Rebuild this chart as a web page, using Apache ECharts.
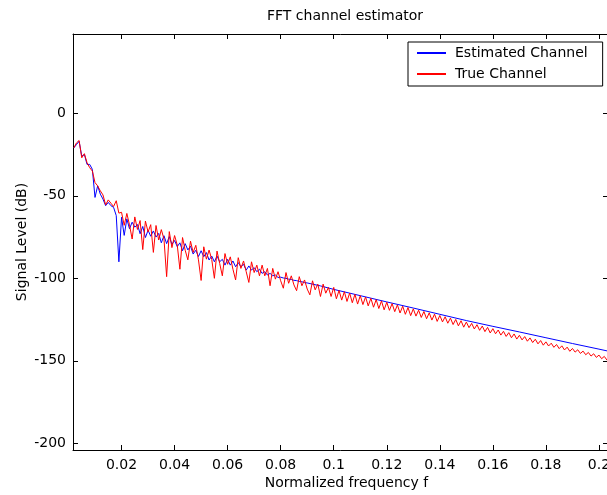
<!DOCTYPE html>
<html>
<head>
<meta charset="utf-8">
<title>FFT channel estimator</title>
<script src="https://cdn.jsdelivr.net/npm/echarts@6/dist/echarts.min.js"></script>
<style>
html, body { margin: 0; padding: 0; background: #fff; }
#chart { width: 607px; height: 495px; }
</style>
</head>
<body>
<div id="chart"></div>
<script>
// true channel, one value per frequency bin
var trueFreq = [
    0.002, 0.003, 0.004, 0.005, 0.006, 0.007, 0.008, 0.009,
    0.010, 0.011, 0.012, 0.013, 0.014, 0.015, 0.016, 0.017, 0.018, 0.019,
    0.020, 0.021, 0.022, 0.023, 0.024, 0.025, 0.026, 0.027, 0.028, 0.029,
    0.030, 0.031, 0.032, 0.033, 0.034, 0.035, 0.036, 0.037, 0.038, 0.039,
    0.040, 0.041, 0.042, 0.043, 0.044, 0.045, 0.046, 0.047, 0.048, 0.049,
    0.050, 0.051, 0.052, 0.053, 0.054, 0.055, 0.056, 0.057, 0.058, 0.059,
    0.060, 0.061, 0.062, 0.063, 0.064, 0.065, 0.066, 0.067, 0.068, 0.069,
    0.070, 0.071, 0.072, 0.073, 0.074, 0.075, 0.076, 0.077, 0.078, 0.079,
    0.080, 0.081, 0.082, 0.083, 0.084, 0.085, 0.086, 0.087, 0.088, 0.089,
    0.090, 0.091, 0.092, 0.093, 0.094, 0.095, 0.096, 0.097, 0.098, 0.099,
    0.100, 0.101, 0.102, 0.103, 0.104, 0.105, 0.106, 0.107, 0.108, 0.109,
    0.110, 0.111, 0.112, 0.113, 0.114, 0.115, 0.116, 0.117, 0.118, 0.119,
    0.120, 0.121, 0.122, 0.123, 0.124, 0.125, 0.126, 0.127, 0.128, 0.129,
    0.130, 0.131, 0.132, 0.133, 0.134, 0.135, 0.136, 0.137, 0.138, 0.139,
    0.140, 0.141, 0.142, 0.143, 0.144, 0.145, 0.146, 0.147, 0.148, 0.149,
    0.150, 0.151, 0.152, 0.153, 0.154, 0.155, 0.156, 0.157, 0.158, 0.159,
    0.160, 0.161, 0.162, 0.163, 0.164, 0.165, 0.166, 0.167, 0.168, 0.169,
    0.170, 0.171, 0.172, 0.173, 0.174, 0.175, 0.176, 0.177, 0.178, 0.179,
    0.180, 0.181, 0.182, 0.183, 0.184, 0.185, 0.186, 0.187, 0.188, 0.189,
    0.190, 0.191, 0.192, 0.193, 0.194, 0.195, 0.196, 0.197, 0.198, 0.199,
    0.200, 0.201, 0.202, 0.203, 0.204
];
var trueDb = [
    -21, -18, -16.5, -27, -24.5, -30, -33, -35,
    -42, -44, -47, -49.5, -55.5, -52.5, -54.5, -56.5, -53, -60.5,
    -60.0, -67.9, -60.7, -67.6, -76.2, -62.8, -70.4, -65.0, -82.6, -65.3,
    -71.9, -67.5, -84.3, -68.0, -76.8, -70.5, -76.2, -99.0, -71.7, -81.4,
    -74.1, -79.8, -94.5, -75.3, -83.0, -88.8, -77.5, -84.3, -80.0, -88.8,
    -101.3, -80.9, -88.4, -82.9, -88.5, -100.0, -83.5, -91.0, -98.5, -85.0,
    -91.5, -87.0, -94.5, -101.0, -87.5, -94.0, -89.5, -96.0, -102.5, -90.0,
    -96.5, -92.0, -98.5, -92.0, -98.5, -94.0, -104.5, -94.0, -100.5, -96.0,
    -101.5, -106.0, -96.5, -103.0, -98.5, -104.0, -107.5, -99.0, -104.5, -101.0,
    -106.5, -110.0, -101.5, -107.0, -103.5, -111.0, -103.5, -109.0, -105.5, -111.0,
    -105.5, -112.4, -107.3, -113.2, -108.1, -114.0, -108.9, -114.8, -109.7, -115.6,
    -110.5, -115.9, -111.3, -116.7, -112.1, -117.5, -112.9, -118.3, -113.7, -119.1,
    -114.5, -119.4, -115.3, -120.2, -116.1, -121.0, -116.9, -121.8, -117.7, -122.6,
    -118.5, -122.9, -119.3, -123.7, -120.1, -124.5, -120.9, -125.3, -121.7, -126.1,
    -122.5, -126.4, -123.3, -127.2, -124.1, -128.0, -124.9, -128.8, -125.7, -129.6,
    -126.5, -129.9, -127.3, -130.7, -128.1, -131.5, -128.9, -132.3, -129.7, -133.1,
    -130.5, -133.6, -131.3, -134.4, -132.1, -135.2, -132.9, -136.0, -133.7, -136.8,
    -134.5, -137.3, -135.3, -138.1, -136.1, -138.9, -136.9, -139.7, -137.7, -140.5,
    -138.5, -141.0, -139.3, -141.8, -140.1, -142.6, -140.9, -143.4, -141.7, -144.2,
    -142.5, -144.7, -143.3, -145.5, -144.1, -146.3, -144.9, -147.1, -145.7, -147.9,
    -146.5, -148.7, -147.3, -149.5, -148.1
];

// estimated channel: noisy at low f, smooth further on
var estFreq = [
    0.002, 0.003, 0.004, 0.005, 0.006, 0.007, 0.008, 0.009,
    0.010, 0.011, 0.012, 0.013, 0.014, 0.015, 0.016, 0.017, 0.018, 0.019,
    0.020, 0.021, 0.022, 0.023, 0.024, 0.025, 0.026, 0.027, 0.028, 0.029,
    0.030, 0.031, 0.032, 0.033, 0.034, 0.035, 0.036, 0.037, 0.038, 0.039,
    0.040, 0.041, 0.042, 0.043, 0.044, 0.045, 0.046, 0.047, 0.048, 0.049,
    0.050, 0.051, 0.052, 0.053, 0.054, 0.055, 0.056, 0.057, 0.058, 0.059,
    0.060, 0.061, 0.062, 0.063, 0.064, 0.065, 0.066, 0.067, 0.068, 0.069,
    0.070, 0.071, 0.072, 0.073, 0.074, 0.075, 0.076, 0.077, 0.078, 0.079,
    0.080, 0.081, 0.082, 0.083, 0.084, 0.085, 0.086, 0.087, 0.088, 0.089,
    0.090, 0.095, 0.100, 0.110, 0.120, 0.130, 0.140, 0.150, 0.160, 0.170,
    0.180, 0.190, 0.200, 0.204
];
var estDb = [
    -21, -19, -17, -26, -25, -31, -31, -34,
    -51, -44, -49, -52, -56, -54, -56, -57, -62, -90,
    -63, -74, -64, -70, -66, -69, -67.4, -73.0, -68.6, -75.3,
    -70.9, -74.5, -71.3, -75.0, -72.8, -78.5, -74.2, -79.0, -74.7, -79.4,
    -77.1, -80.8, -78.5, -83.3, -79.0, -82.8, -80.5, -85.3, -83.0, -86.8,
    -83.3, -86.9, -84.4, -88.9, -86.5, -90.0, -86.5, -90.0, -88.5, -92.0,
    -88.5, -92.0, -89.5, -93.0, -90.5, -93.0, -91.5, -95.0, -92.5, -95.0,
    -93.5, -96.0, -94.5, -97.0, -96.0, -98.0, -97.0, -98.5, -98.0, -99.5,
    -99.3, -99.8, -100.0, -100.5, -100.7, -101.2, -101.4, -101.9, -102.1, -102.6,
    -102.8, -104.6, -106.7, -110.5, -114.3, -118.0, -121.8, -125.6, -129.1, -132.5,
    -136.0, -139.5, -142.9, -144.3
];

var xTicks = [0.02, 0.04, 0.06, 0.08, 0.1, 0.12, 0.14, 0.16, 0.18, 0.2];
var yTicks = [-200, -150, -100, -50, 0];
var xRange = [0.0017, 0.2034];
var yRange = [-204, 48];

var chart = echarts.init(document.getElementById('chart'));
var font = 'DejaVu Sans';

function pairs(xs, ys) {
    return xs.map(function (x, i) { return [x, ys[i]]; });
}

function xAxis(pos, labels) {
    return {
        type: 'value', position: pos, min: xRange[0], max: xRange[1],
        axisLine: { show: true, onZero: false, lineStyle: { color: '#000', width: 1 } },
        axisTick: { show: true, inside: true, length: 5, customValues: xTicks, lineStyle: { color: '#000' } },
        axisLabel: { show: labels, customValues: xTicks, color: '#000', fontSize: 14, fontFamily: font, margin: 8 },
        splitLine: { show: false }
    };
}

function yAxis(pos, labels) {
    return {
        type: 'value', position: pos, min: yRange[0], max: yRange[1],
        axisLine: { show: true, onZero: false, lineStyle: { color: '#000', width: 1 } },
        axisTick: { show: true, inside: true, length: 5, customValues: yTicks, lineStyle: { color: '#000' } },
        axisLabel: { show: labels, customValues: yTicks, color: '#000', fontSize: 14, fontFamily: font, margin: 7 },
        splitLine: { show: false }
    };
}

var bottomAxis = xAxis('bottom', true);
bottomAxis.name = 'Normalized frequency f';
bottomAxis.nameLocation = 'middle';
bottomAxis.nameGap = 26;
bottomAxis.nameMoveOverlap = false;
bottomAxis.nameTextStyle = { color: '#000', fontSize: 14, fontFamily: font, padding: [0, 0, 0, 12] };

var leftAxis = yAxis('left', true);
leftAxis.name = 'Signal Level (dB)';
leftAxis.nameLocation = 'middle';
leftAxis.nameGap = 44;
leftAxis.nameMoveOverlap = false;
leftAxis.nameTextStyle = { color: '#000', fontSize: 14, fontFamily: font };

var option = {
    animation: false,
    backgroundColor: '#fff',
    title: {
        text: 'FFT channel estimator',
        left: 262, top: 4,
        textStyle: { color: '#000', fontSize: 14, fontWeight: 'normal', fontFamily: font }
    },
    legend: {
        orient: 'vertical', left: 408, top: 42,
        data: ['Estimated Channel', 'True Channel'],
        itemWidth: 29, itemHeight: 14, itemGap: 7,
        padding: [4, 15, 5, 8],
        borderColor: '#000', borderWidth: 1, backgroundColor: '#fff',
        itemStyle: { opacity: 0 },
        textStyle: { color: '#000', fontSize: 14, fontFamily: font, padding: [0, 0, 0, 4] }
    },
    grid: { left: 73, top: 34, right: -1, bottom: 45, containLabel: false, outerBoundsMode: 'none' },
    xAxis: [bottomAxis, xAxis('top', false)],
    yAxis: [leftAxis, yAxis('right', false)],
    series: [
        {
            name: 'Estimated Channel', type: 'line', xAxisIndex: 0, yAxisIndex: 0,
            data: pairs(estFreq, estDb), symbol: 'none', clip: true,
            lineStyle: { color: '#0000ff', width: 1 }, itemStyle: { color: '#0000ff' }
        },
        {
            name: 'True Channel', type: 'line', xAxisIndex: 0, yAxisIndex: 0,
            data: pairs(trueFreq, trueDb), symbol: 'none', clip: true,
            lineStyle: { color: '#ff0000', width: 1 }, itemStyle: { color: '#ff0000' }
        }
    ]
};

chart.setOption(option);
</script>
</body>
</html>
